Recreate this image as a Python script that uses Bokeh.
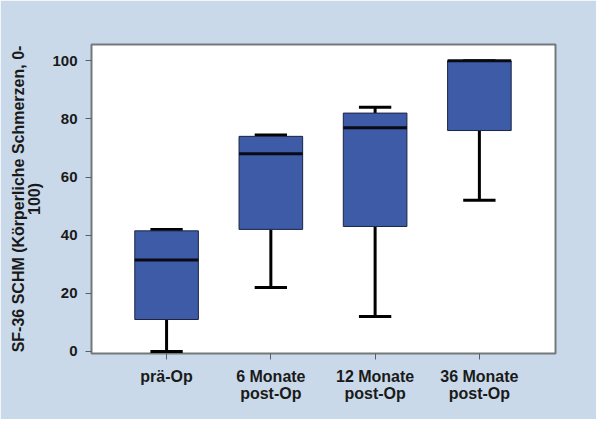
from bokeh.plotting import figure
from bokeh.models import FixedTicker, ColumnDataSource, Range1d
from bokeh.embed import file_html
from bokeh.resources import INLINE

# ---- data ----
categories = ["prä-Op", "6 Monate\npost-Op", "12 Monate\npost-Op", "36 Monate\npost-Op"]
positions = [1, 2, 3, 4]
whisker_low = [0, 22, 12, 52]
q1 = [11, 42, 43, 76]
median = [31.5, 68, 77, 100]
q3 = [41.5, 74, 82, 100]
whisker_high = [42, 74.5, 84, 100]
y_ticks = [0, 20, 40, 60, 80, 100]
y_label = "SF-36 SCHM (Körperliche Schmerzen, 0-\n100)"

BOX_W = 0.61
CAP_W = 0.31
FONT = "Liberation Sans"
BG = "#c9d9e9"
BOX = "#3e5ba8"

p = figure(width=596, height=419, output_backend="svg", toolbar_location=None,
           x_range=Range1d(0.28, 4.73), y_range=Range1d(-0.7, 105.6),
           min_border_left=91, min_border_right=41, min_border_top=44, min_border_bottom=66)
p.border_fill_color = BG
p.background_fill_color = "white"
p.outline_line_color = "#74787c"
p.outline_line_width = 2
p.xgrid.visible = False
p.ygrid.visible = False

src = ColumnDataSource(dict(
    x=positions,
    lo=whisker_low, q1=q1, med=median, q3=q3, hi=whisker_high,
    bx0=[v - BOX_W / 2 for v in positions], bx1=[v + BOX_W / 2 for v in positions],
    cx0=[v - CAP_W / 2 for v in positions], cx1=[v + CAP_W / 2 for v in positions],
))

# whisker stems
p.segment(x0="x", x1="x", y0="lo", y1="q1", source=src, line_color="black", line_width=3)
p.segment(x0="x", x1="x", y0="q3", y1="hi", source=src, line_color="black", line_width=3)
# caps
p.segment(x0="cx0", x1="cx1", y0="lo", y1="lo", source=src, line_color="black", line_width=3)
p.segment(x0="cx0", x1="cx1", y0="hi", y1="hi", source=src, line_color="black", line_width=3)
# boxes
p.vbar(x="x", width=BOX_W, bottom="q1", top="q3", source=src,
       fill_color=BOX, line_color="#1c2440", line_width=1)
# medians
p.segment(x0="bx0", x1="bx1", y0="med", y1="med", source=src, line_color="#0a0a14", line_width=3)

# axes
p.xaxis.ticker = FixedTicker(ticks=positions)
p.xaxis.major_label_overrides = {pos: lab for pos, lab in zip(positions, categories)}
p.yaxis.ticker = FixedTicker(ticks=y_ticks)
p.yaxis.axis_label = y_label

for ax in (p.xaxis[0], p.yaxis[0]):
    ax.axis_line_color = "#74787c"
    ax.axis_line_width = 1
    ax.major_tick_line_color = "#5a5e62"
    ax.major_tick_out = 6
    ax.major_tick_in = 0
    ax.minor_tick_line_color = None
    ax.major_label_text_font = FONT
    ax.major_label_text_font_style = "bold"
    ax.major_label_text_color = "#1a1a1a"
    ax.major_label_standoff = 8

p.xaxis.major_label_text_font_size = "16px"
p.xaxis.major_label_text_line_height = 1.0
p.yaxis.major_label_text_font_size = "15px"

p.yaxis.axis_label_text_font = FONT
p.yaxis.axis_label_text_font_style = "bold"
p.yaxis.axis_label_text_font_size = "16px"
p.yaxis.axis_label_text_line_height = 0.95
p.yaxis.axis_label_text_color = "#1a1a1a"
p.yaxis.axis_label_standoff = 6

open("out.html", "w").write(file_html(p, INLINE))
